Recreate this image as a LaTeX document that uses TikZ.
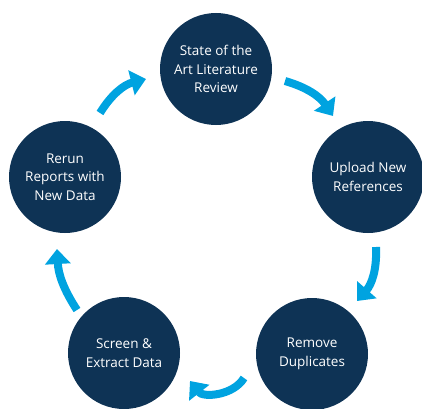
\documentclass[tikz,border=0pt]{standalone}
\usepackage{fontspec}
\setmainfont{Open Sans}
\usetikzlibrary{arrows.meta}
\definecolor{navy}{RGB}{14,51,85}
\definecolor{flowblue}{RGB}{0,163,224}
\begin{document}
\begin{tikzpicture}[x=1pt,y=1pt,
  stage/.style={circle,fill=navy,minimum size=112pt,inner sep=0pt,
    text=white,align=center,font=\fontsize{13.5}{18.5}\selectfont},
  flow/.style={draw=flowblue,line width=8pt,
    -{Triangle[width=25pt,length=15pt]}}]
\useasboundingbox (0,0) rectangle (422,408);

% the five stages of the review cycle
\node[stage] (review)  at (216,339) {State of the\\Art Literature\\Review};
\node[stage] (upload)  at (368,231) {Upload New\\References};
\node[stage] (dedup)   at (312,54)  {Remove\\Duplicates};
\node[stage] (screen)  at (124,55)  {Screen \&\\Extract Data};
\node[stage] (rerun)   at (65,231)  {Rerun\\Reports with\\New Data};

% ends of the curved arrows between neighbouring stages
\coordinate (a1s) at (285,327); \coordinate (a1e) at (333,292);
\coordinate (a2s) at (376,161); \coordinate (a2e) at (357,107);
\coordinate (a3s) at (244,30);  \coordinate (a3e) at (190,27);
\coordinate (a4s) at (77,98);   \coordinate (a4e) at (57,159);
\coordinate (a5s) at (100,295); \coordinate (a5e) at (146,329);

\draw[flow] (a1s) to[bend left=20] (a1e);
\draw[flow] (a2s) to[bend left=22] (a2e);
\draw[flow] (a3s) to[bend left=55] (a3e);
\draw[flow] (a4s) to[bend left=15] (a4e);
\draw[flow] (a5s) to[bend left=22] (a5e);
\end{tikzpicture}
\end{document}
